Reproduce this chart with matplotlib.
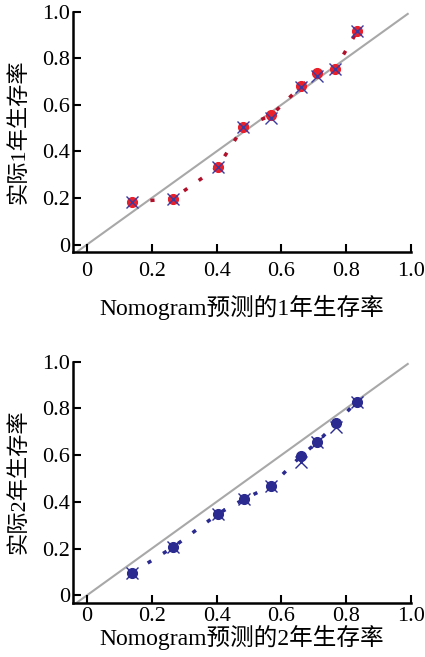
import numpy as np
import matplotlib.pyplot as plt

plt.rcParams['font.family'] = ['Liberation Serif', 'Noto Sans CJK SC']

# 1-year calibration
pred_1y = [0.14, 0.265, 0.403, 0.482, 0.569, 0.661, 0.71, 0.766, 0.834]
obs_1y = [0.183, 0.197, 0.332, 0.504, 0.555, 0.68, 0.737, 0.755, 0.915]
obs_1y_x = [0.183, 0.197, 0.332, 0.504, 0.545, 0.675, 0.722, 0.755, 0.915]

# 2-year calibration
pred_2y = [0.14, 0.266, 0.405, 0.484, 0.569, 0.661, 0.71, 0.768, 0.833]
obs_2y = [0.097, 0.206, 0.349, 0.411, 0.469, 0.597, 0.654, 0.736, 0.829]
obs_2y_x = [0.097, 0.206, 0.349, 0.411, 0.469, 0.571, 0.654, 0.722, 0.829]

ticks = [0, 0.2, 0.4, 0.6, 0.8, 1.0]
tick_labels = ['0', '0.2', '0.4', '0.6', '0.8', '1.0']


def calib_panel(ax, px, py, py_x, dot_color, line_color, cross_color, xlabel, ylabel, xpad):
    ax.plot([-0.04, 0.99], [-0.04, 0.99], color='#a8a8a8', lw=1.5, zorder=1)
    ax.plot(px, py, color=line_color, lw=2.5, linestyle=(0, (1.2, 4)), zorder=2)
    ax.plot(px, py, 'o', color=dot_color, ms=7, zorder=3)
    ax.plot(px, py_x, 'x', color=cross_color, ms=8, mew=1.0, zorder=4)
    ax.set_xlim(-0.043, 1.0)
    ax.set_ylim(-0.032, 1.0)
    ax.set_xticks(ticks, tick_labels)
    ax.set_yticks(ticks, tick_labels)
    for s in ['top', 'right']:
        ax.spines[s].set_visible(False)
    for s in ['left', 'bottom']:
        ax.spines[s].set_linewidth(1.8)
    ax.tick_params(direction='in', length=6, width=1.5, labelsize=16)
    ax.tick_params(axis='x', pad=xpad)
    ax.tick_params(axis='y', pad=2)
    ax.set_xlabel(xlabel, fontsize=17, labelpad=10)
    ax.set_ylabel(ylabel, fontsize=16)
    ax.yaxis.set_label_coords(-0.13, 0.5)


fig = plt.figure(figsize=(4.25, 6.57), dpi=100)
ax1 = fig.add_axes([0.172, 0.6164, 0.795, 0.366])
ax2 = fig.add_axes([0.172, 0.0826, 0.795, 0.367])

calib_panel(ax1, pred_1y, obs_1y, obs_1y_x, '#e8202a', '#b0102a', '#3a3aa0',
            'Nomogram预测的1年生存率', '实际1年生存率', 7)
calib_panel(ax2, pred_2y, obs_2y, obs_2y_x, '#2a2a90', '#2a2a90', '#2a2a90',
            'Nomogram预测的2年生存率', '实际2年生存率', 3)
ax2.xaxis.labelpad = -1

fig.savefig('out.png', dpi=100)
